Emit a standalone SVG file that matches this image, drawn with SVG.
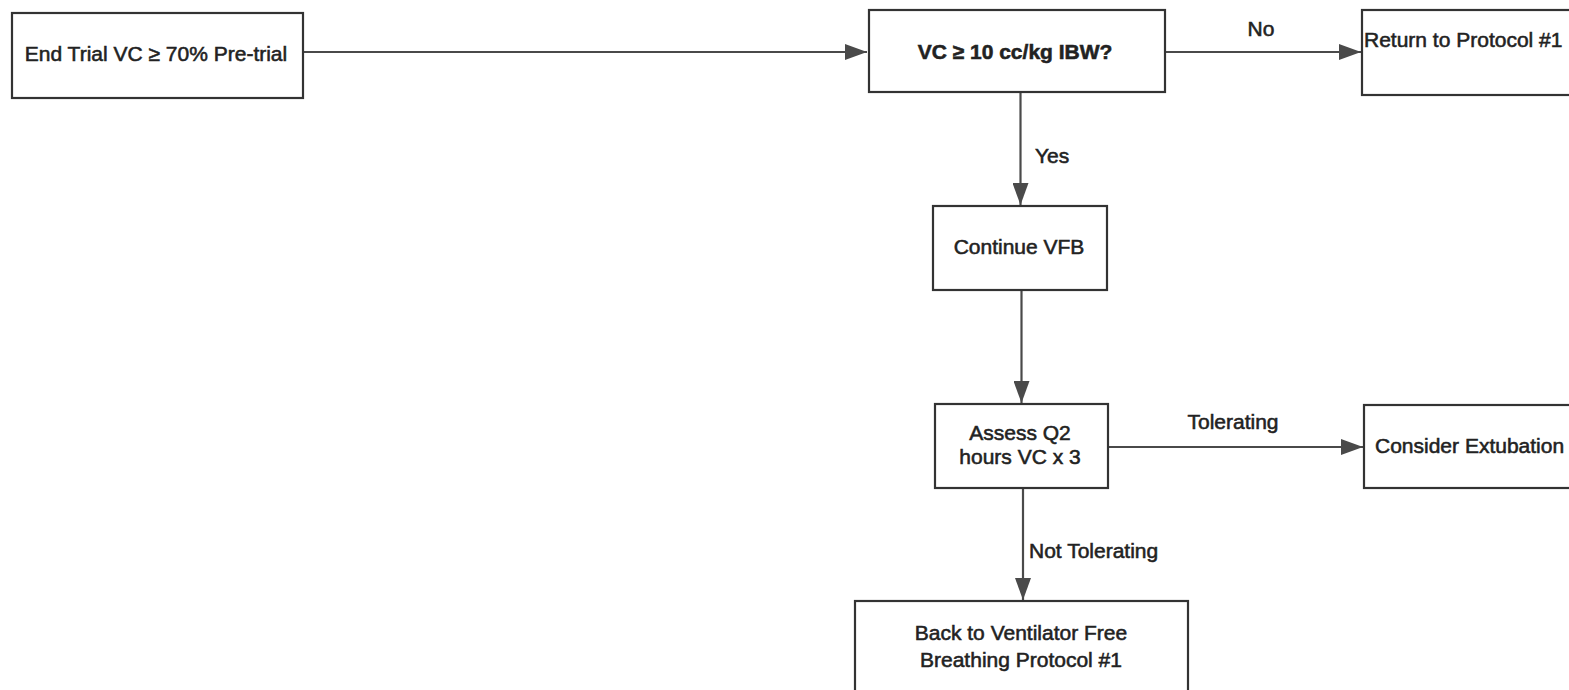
<svg xmlns="http://www.w3.org/2000/svg" width="1569" height="690" viewBox="0 0 1569 690">
<style>
.box{fill:#fff;stroke:#333;stroke-width:2.2}
.t{font-family:"Liberation Sans",Arial,sans-serif;font-size:21px;fill:#222;stroke:#222;stroke-width:0.55;text-anchor:middle}
.s{text-anchor:start}
.c{stroke:#4a4a4a;stroke-width:2.2;fill:none}
</style>
<defs>
<marker id="ahL" viewBox="0 0 22 16" refX="22" refY="8" markerWidth="22" markerHeight="16" markerUnits="userSpaceOnUse" orient="auto">
<path d="M0,0 L22,8 L0,16 Z" fill="#4a4a4a"/>
</marker>
</defs>
<rect width="1569" height="690" fill="#fff"/>
<g id="connectors">
<path class="c" d="M303,52 H867" marker-end="url(#ahL)"/>
<path class="c" d="M1165,52 H1361" marker-end="url(#ahL)"/>
<path class="c" d="M1020.5,92 V205" marker-end="url(#ahL)"/>
<path class="c" d="M1021.5,290 V403" marker-end="url(#ahL)"/>
<path class="c" d="M1108,447 H1363" marker-end="url(#ahL)"/>
<path class="c" d="M1023,488 V600" marker-end="url(#ahL)"/>
<text class="t" x="1261" y="36">No</text>
<text class="t s" x="1035" y="163">Yes</text>
<text class="t" x="1233" y="429">Tolerating</text>
<text class="t s" x="1029" y="558">Not Tolerating</text>
</g>
<g id="n1">
<rect class="box" x="12" y="13" width="291" height="85"/>
<text class="t" x="156" y="61">End Trial VC ≥ 70% Pre-trial</text>
</g>
<g id="n2">
<rect class="box" x="869" y="10" width="296" height="82"/>
<text class="t" x="1015" y="59" font-weight="bold" font-size="20.5" stroke-width="0.2">VC ≥ 10 cc/kg IBW?</text>
</g>
<g id="n3">
<rect class="box" x="1362" y="10" width="220" height="85"/>
<text class="t s" x="1364" y="47">Return to Protocol #1</text>
</g>
<g id="n4">
<rect class="box" x="933" y="206" width="174" height="84"/>
<text class="t" x="1019" y="254">Continue VFB</text>
</g>
<g id="n5">
<rect class="box" x="935" y="404" width="173" height="84"/>
<text class="t" x="1020" y="440">Assess Q2</text>
<text class="t" x="1020" y="464">hours VC x 3</text>
</g>
<g id="n6">
<rect class="box" x="1364" y="405" width="220" height="83"/>
<text class="t s" x="1375" y="453">Consider Extubation</text>
</g>
<g id="n7">
<rect class="box" x="855" y="601" width="333" height="100"/>
<text class="t" x="1021" y="640">Back to Ventilator Free</text>
<text class="t" x="1021" y="667">Breathing Protocol #1</text>
</g>
</svg>
